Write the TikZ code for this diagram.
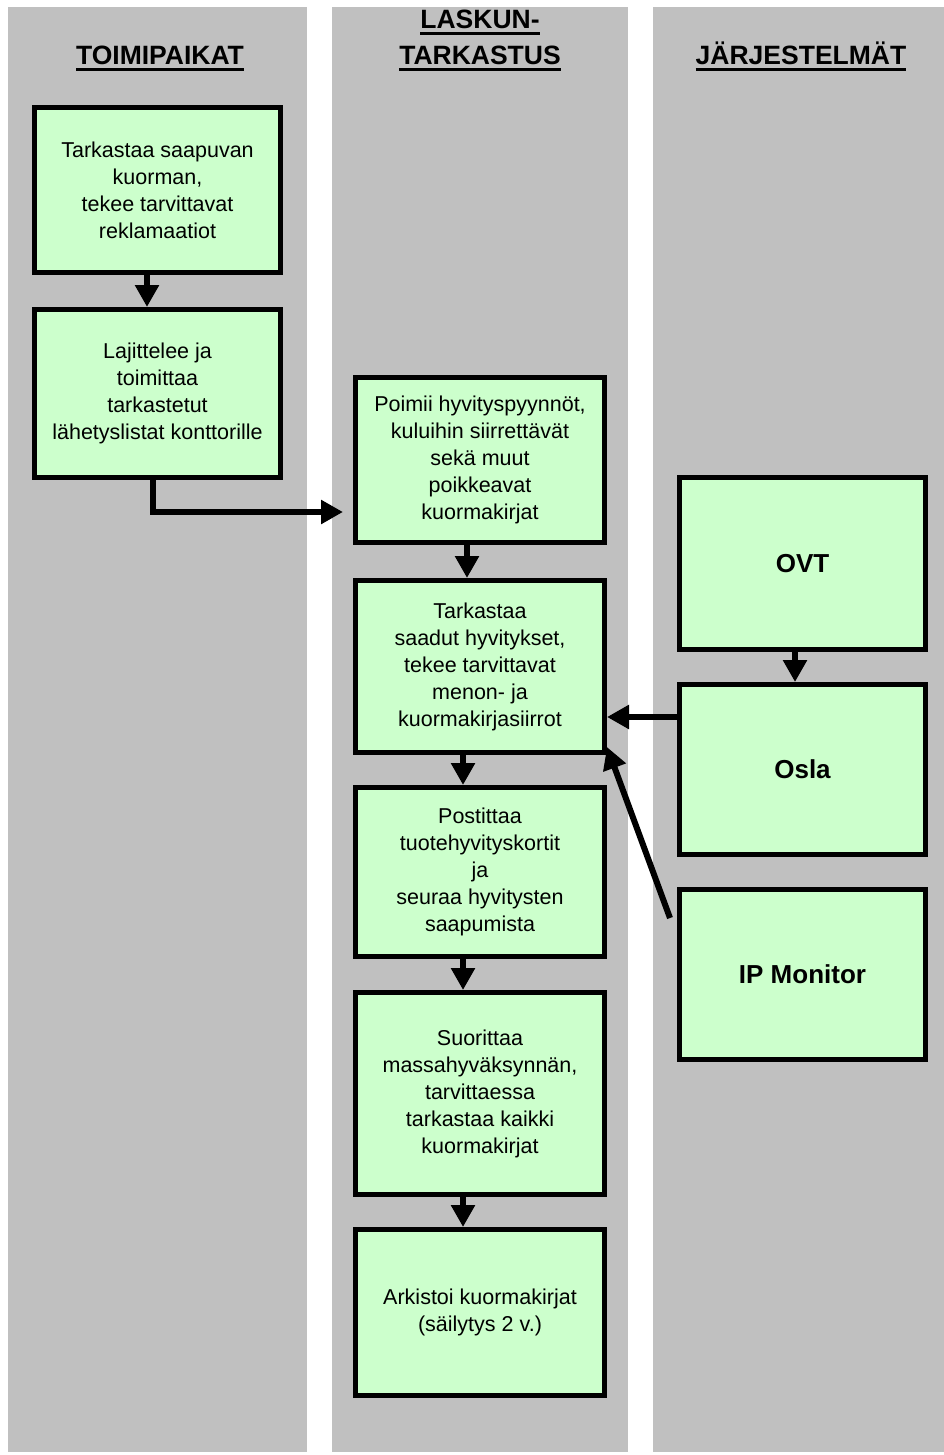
\documentclass[tikz,border=0pt]{standalone}
\usepackage{fontspec}
\setmainfont{Liberation Sans}
\usetikzlibrary{arrows.meta}
\definecolor{lanegray}{HTML}{C0C0C0}
\definecolor{boxgreen}{HTML}{CCFFCC}
\newlength{\ulwd}
\newcommand{\ulhdr}[1]{\settowidth{\ulwd}{#1}\rlap{\rule[-6pt]{\ulwd}{2.5pt}}#1}

\begin{document}
\begin{tikzpicture}[x=1pt,y=-1pt]
	
	\tikzset{box/.style={
			draw, line width=5pt, fill=boxgreen,
			align=center, inner sep=0pt,
			font=\fontsize{21.5}{27}\selectfont
		},
		sysbox/.style={box, font=\bfseries\fontsize{26}{30}\selectfont},
		header/.style={align=center, inner sep=0pt, anchor=base,
			font=\bfseries\fontsize{26.5}{36}\selectfont},
		flow/.style={line width=6pt, -{Triangle[length=22pt,width=23pt]}}
	}
	
	\useasboundingbox (0,0) rectangle (944,1455);
	
	% lanes
	\fill[lanegray] (8,7) rectangle (307,1452);
	\fill[lanegray] (332,7) rectangle (628,1452);
	\fill[lanegray] (653,7) rectangle (944,1452);
	
	\node[header] (toimipaikat) at (160,65) {\ulhdr{TOIMIPAIKAT}};
	\node[header] (laskuntark) at (480,65) {\ulhdr{LASKUN-}\\\ulhdr{TARKASTUS}};
	\node[header] (jarjestelmat) at (801,65) {\ulhdr{JÄRJESTELMÄT}};
	
	% toimipaikat
	\node[box, minimum width=246pt, minimum height=165pt] (tarkastaa) at (157.5,190)
	{Tarkastaa saapuvan\\kuorman,\\tekee tarvittavat\\reklamaatiot};
	\node[box, minimum width=246pt, minimum height=168pt] (lajittelee) at (157.5,393.5)
	{Lajittelee ja\\toimittaa\\tarkastetut\\lähetyslistat konttorille};
	
	% laskuntarkastus
	\node[box, minimum width=249pt, minimum height=165pt] (poimii) at (480,460)
	{Poimii hyvityspyynnöt,\\kuluihin siirrettävät\\sekä muut\\poikkeavat\\kuormakirjat};
	\node[box, minimum width=249pt, minimum height=172pt] (saadut) at (480,666.5)
	{Tarkastaa\\saadut hyvitykset,\\tekee tarvittavat\\menon- ja\\kuormakirjasiirrot};
	\node[box, minimum width=249pt, minimum height=169pt] (postittaa) at (480,872)
	{Postittaa\\tuotehyvityskortit\\ja\\seuraa hyvitysten\\saapumista};
	\node[box, minimum width=249pt, minimum height=202pt] (suorittaa) at (480,1093.5)
	{Suorittaa\\massahyväksynnän,\\tarvittaessa\\tarkastaa kaikki\\kuormakirjat};
	\node[box, minimum width=249pt, minimum height=166pt] (arkistoi) at (480,1312.5)
	{Arkistoi kuormakirjat\\(säilytys 2 v.)};
	
	% jarjestelmat
	\node[sysbox, minimum width=246pt, minimum height=172pt] (ovt) at (802.5,563.5) {OVT};
	\node[sysbox, minimum width=246pt, minimum height=170pt] (osla) at (802.5,769.5) {Osla};
	\node[sysbox, minimum width=246pt, minimum height=170pt] (ipmon) at (802.5,974.5) {IP Monitor};
	
	% arrows
	\draw[flow] ([xshift=-10.5pt]tarkastaa.south) -- ([xshift=-10.5pt]lajittelee.north);
	\draw[flow] ([xshift=-4.5pt]lajittelee.south) |- ([xshift=-10pt,yshift=-52pt]poimii.west);
	\draw[flow] ([xshift=-13pt]poimii.south) -- ([xshift=-13pt]saadut.north);
	\draw[flow] ([xshift=-17pt]saadut.south) -- ([xshift=-17pt]postittaa.north);
	\draw[flow] ([xshift=-17pt]postittaa.south) -- ([xshift=-17pt]suorittaa.north);
	\draw[flow] ([xshift=-17pt]suorittaa.south) -- ([xshift=-17pt]arkistoi.north);
	\draw[flow] ([xshift=-7.5pt]ovt.south) -- ([xshift=-7.5pt]osla.north);
	\coordinate (oslaout) at ([yshift=52.5pt]osla.west);
	\draw[flow] (oslaout) -- (oslaout -| saadut.east);
	\coordinate (ipout) at ([xshift=-7pt,yshift=-31pt]ipmon.north west);
	\draw[flow] (ipout) -- ([yshift=8pt]saadut.south east);
	
\end{tikzpicture}
\end{document}
